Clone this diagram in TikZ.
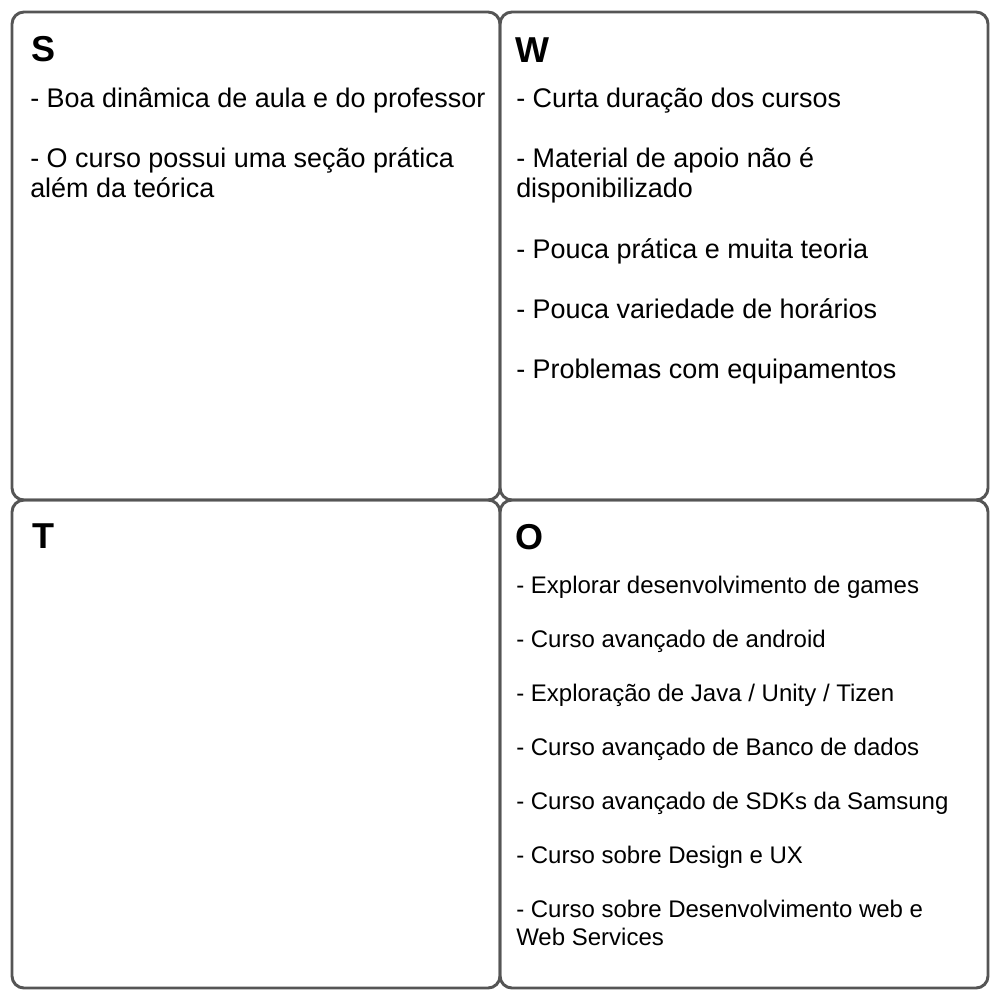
\documentclass[tikz,border=0pt]{standalone}
\usepackage{fontspec}
\setmainfont{Liberation Sans}
\usetikzlibrary{positioning}
\definecolor{framegray}{HTML}{555555}
\tikzset{
  quad/.style={rectangle,rounded corners=9pt,draw=framegray,line width=2.2pt,minimum width=366pt,minimum height=366pt,inner sep=0pt},
  head/.style={anchor=base west,inner sep=0pt,font=\fontsize{27}{30}\selectfont\bfseries},
  item/.style={anchor=base west,inner sep=0pt,align=left,font=\fontsize{20.2}{22.5}\selectfont},
  oitem/.style={anchor=base west,inner sep=0pt,align=left,font=\fontsize{18}{21}\selectfont}
}

\begin{document}
\begin{tikzpicture}[x=0.75pt,y=-0.75pt]
  \useasboundingbox (0,0) rectangle (1002,1002);
  % quadrants
  \node[quad] (sq) at (256,256) {};
  \node[quad] (wq) at (744,256) {};
  \node[quad] (tq) at (256,744) {};
  \node[quad] (oq) at (744,744) {};
  % headings
  \node[head] (sh) at (31,62) {S};
  \node[head] (wh) at (515,63) {W};
  \node[head] (th) at (32,548) {T};
  \node[head] (oh) at (515,549) {O};
  % strengths (multi-line nodes sit on their last baseline)
  \node[item] (s1) at (30,108) {- Boa dinâmica de aula e do professor};
  \node[item] (s2) at (30,197) {- O curso possui uma seção prática\\além da teórica};
  % weaknesses
  \foreach \y/\txt [count=\i] in {108/{- Curta duração dos cursos},
      197/{- Material de apoio não é\\disponibilizado},
      258/{- Pouca prática e muita teoria},
      318/{- Pouca variedade de horários},
      378/{- Problemas com equipamentos}}
    \node[item] (w\i) at (516,\y) {\txt};
  % opportunities
  \foreach \y/\txt [count=\i] in {593/{- Explorar desenvolvimento de games},
      647/{- Curso avançado de android},
      701/{- Exploração de Java / Unity / Tizen},
      755/{- Curso avançado de Banco de dados},
      809/{- Curso avançado de SDKs da Samsung},
      863/{- Curso sobre Design e UX},
      945/{- Curso sobre Desenvolvimento web e\\Web Services}}
    \node[oitem] (o\i) at (516,\y) {\txt};
\end{tikzpicture}
\end{document}
